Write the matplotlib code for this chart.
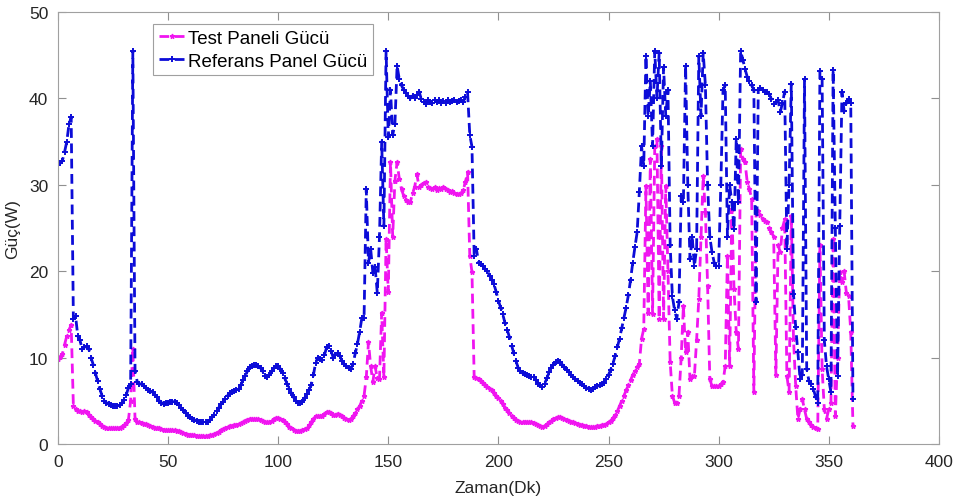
import numpy as np
import matplotlib.pyplot as plt

plt.rcParams['font.family'] = ['Liberation Sans', 'DejaVu Sans']

# Zaman (dakika), 0..361
zaman = np.arange(0, 362)

# Test panelinin gucu (W)
test_gucu = [
    9.8, 10.1, 10.4, 11.5, 12.5, 13.2, 13.8, 4.4, 4.0, 3.8,
    3.8, 3.7, 3.8, 3.7, 3.4, 3.1, 2.9, 2.7, 2.5, 2.3,
    2.1, 2.0, 1.9, 1.8, 1.8, 1.8, 1.8, 1.8, 1.9, 2.0,
    2.2, 2.4, 2.8, 5.0, 11.0, 2.9, 2.6, 2.5, 2.4, 2.3,
    2.3, 2.2, 2.1, 2.0, 1.9, 1.9, 1.8, 1.7, 1.6, 1.6,
    1.6, 1.6, 1.6, 1.6, 1.5, 1.5, 1.4, 1.3, 1.2, 1.1,
    1.1, 1.0, 1.0, 0.9, 0.9, 0.9, 0.9, 0.9, 0.9, 1.0,
    1.1, 1.2, 1.3, 1.4, 1.6, 1.7, 1.8, 2.0, 2.1, 2.1,
    2.2, 2.2, 2.3, 2.4, 2.6, 2.7, 2.8, 2.9, 2.9, 2.9,
    2.9, 2.9, 2.8, 2.7, 2.5, 2.5, 2.6, 2.7, 2.9, 3.0,
    3.0, 2.9, 2.8, 2.6, 2.3, 2.0, 1.8, 1.6, 1.5, 1.5,
    1.5, 1.6, 1.7, 1.9, 2.2, 2.5, 2.9, 3.2, 3.2, 3.3,
    3.3, 3.5, 3.7, 3.7, 3.6, 3.4, 3.4, 3.5, 3.4, 3.2,
    3.0, 2.9, 2.8, 2.9, 3.2, 3.6, 4.0, 4.4, 5.0, 5.6,
    7.7, 11.8, 9.0, 7.2, 9.0, 7.6, 7.5, 15.2, 7.7, 23.7,
    17.6, 32.6, 24.0, 30.5, 32.6, 30.7, 29.5, 28.7, 28.2, 28.0,
    28.0, 29.0, 29.8, 31.2, 29.7, 30.0, 30.2, 30.3, 29.8, 29.6,
    29.5, 29.7, 29.4, 29.6, 29.5, 29.7, 29.5, 29.4, 29.2, 29.3,
    29.0, 28.9, 28.9, 29.0, 29.4, 30.3, 31.5, 21.8, 19.9, 7.7,
    7.6, 7.5, 7.3, 7.1, 6.8, 6.6, 6.4, 6.2, 5.9, 5.6,
    5.3, 5.0, 4.6, 4.2, 3.9, 3.6, 3.3, 3.0, 2.8, 2.7,
    2.6, 2.6, 2.6, 2.5, 2.5, 2.5, 2.4, 2.3, 2.2, 2.1,
    2.0, 2.1, 2.3, 2.5, 2.7, 2.9, 3.0, 3.1, 3.1, 3.0,
    2.9, 2.8, 2.7, 2.6, 2.5, 2.4, 2.3, 2.2, 2.2, 2.1,
    2.1, 2.0, 2.0, 2.0, 2.0, 2.1, 2.1, 2.2, 2.2, 2.3,
    2.5, 2.7, 3.0, 3.4, 3.8, 4.4, 5.0, 5.6, 6.2, 6.8,
    7.4, 8.0, 8.5, 8.9, 9.3, 12.2, 13.3, 29.9, 15.2, 33.0,
    15.0, 34.5, 35.3, 14.5, 34.5, 14.5, 29.9, 20.0, 9.5, 5.6,
    4.8, 4.8, 5.6, 10.0, 16.0, 10.6, 13.0, 7.5, 7.9, 7.9,
    12.0, 16.8, 24.0, 31.0, 26.8, 18.3, 7.5, 6.7, 6.7, 6.7,
    6.7, 6.9, 7.2, 9.0, 21.8, 9.0, 27.2, 17.9, 13.0, 11.0,
    34.1, 33.0, 32.6, 30.3, 29.5, 28.4, 6.0, 26.8, 27.0, 26.5,
    26.0, 25.8, 25.7, 25.0, 24.5, 24.0, 8.0, 23.0, 22.2, 25.0,
    26.0, 7.9, 6.0, 26.4, 12.2, 6.7, 2.9, 4.0, 5.2, 4.0,
    2.9, 2.5, 2.2, 2.0, 1.8, 1.7, 23.0, 8.7, 4.0, 2.9,
    4.0, 4.8, 23.7, 3.3, 10.0, 19.9, 18.8, 20.0, 17.5, 17.1,
    13.0, 2.1,
]

# Referans panelin gucu (W)
referans_gucu = [
    32.3, 32.5, 32.8, 33.8, 35.0, 37.0, 37.8, 14.5, 14.8, 12.5,
    12.0, 11.0, 11.2, 11.3, 11.0, 10.0, 9.2, 8.2, 7.3, 6.4,
    5.6, 5.0, 4.8, 4.6, 4.5, 4.4, 4.4, 4.4, 4.5, 4.7,
    5.1, 5.7, 6.5, 7.0, 45.5, 8.5, 7.2, 7.0, 6.9, 6.7,
    6.5, 6.3, 6.1, 6.0, 5.7, 5.4, 5.0, 4.8, 4.6, 4.7,
    4.8, 4.9, 4.9, 4.9, 4.7, 4.5, 4.2, 3.9, 3.6, 3.3,
    3.1, 2.9, 2.8, 2.7, 2.6, 2.5, 2.5, 2.5, 2.6, 2.8,
    3.1, 3.4, 3.8, 4.2, 4.6, 4.9, 5.2, 5.6, 5.9, 6.0,
    6.1, 6.2, 6.4, 6.8, 7.4, 7.9, 8.4, 8.9, 9.0, 9.1,
    9.1, 9.0, 8.8, 8.4, 7.9, 7.8, 8.0, 8.4, 8.8, 9.0,
    9.0, 8.7, 8.2, 7.6, 7.0, 6.4, 5.9, 5.4, 5.0, 4.8,
    4.7, 4.9, 5.3, 5.8, 6.3, 6.8, 8.0, 9.4, 10.0, 9.8,
    9.7, 10.3, 11.2, 11.3, 10.8, 10.0, 10.3, 10.5, 10.2, 9.6,
    9.3, 9.0, 8.8, 8.7, 9.3, 10.5, 11.6, 13.0, 14.6, 14.6,
    29.5, 21.0, 22.6, 19.8, 20.5, 17.5, 24.0, 35.0, 25.2, 45.5,
    35.5, 41.0, 35.8, 37.0, 43.8, 42.2, 41.5, 41.0, 40.6, 40.3,
    40.0, 40.3, 40.0, 40.4, 40.8, 39.9, 39.6, 39.4, 39.8, 39.6,
    39.5, 39.8, 39.6, 39.8, 39.5, 39.7, 39.5, 39.8, 39.6, 39.7,
    39.8, 39.6, 39.7, 39.8, 39.6, 40.2, 40.7, 35.8, 34.4, 21.8,
    22.6, 21.0, 20.8, 20.6, 20.3, 20.0, 19.5, 19.0, 18.5, 17.6,
    16.6, 15.8, 15.0, 14.0, 13.2, 12.4, 11.4, 10.5, 9.6, 8.8,
    8.4, 8.2, 8.1, 8.0, 7.9, 7.8, 7.7, 7.4, 7.0, 6.8,
    6.6, 7.0, 7.6, 8.3, 8.8, 9.2, 9.5, 9.6, 9.5, 9.2,
    8.9, 8.6, 8.3, 8.0, 7.7, 7.5, 7.3, 7.1, 6.9, 6.7,
    6.5, 6.4, 6.3, 6.4, 6.6, 6.7, 6.8, 6.9, 7.1, 7.5,
    8.0, 8.6, 9.3, 10.2, 11.2, 12.2, 13.4, 14.6, 15.8, 17.2,
    19.0, 21.0, 22.8, 24.5, 29.2, 34.5, 32.2, 44.9, 38.0, 42.0,
    34.5, 45.5, 40.0, 45.3, 32.2, 43.6, 38.0, 41.0, 23.0, 17.1,
    15.5, 14.5, 16.4, 28.7, 28.0, 43.8, 30.0, 21.4, 24.0, 20.6,
    22.6, 44.9, 38.0, 45.3, 41.5, 30.0, 24.0, 22.2, 21.0, 20.6,
    20.6, 30.0, 41.0, 41.5, 24.0, 30.0, 28.0, 24.9, 35.3, 28.0,
    45.5, 44.5, 43.4, 42.5, 42.0, 41.5, 41.0, 16.4, 41.0, 41.2,
    41.0, 40.8, 40.8, 40.5, 39.9, 39.4, 39.6, 39.8, 38.4, 39.5,
    40.8, 22.6, 30.0, 41.7, 17.4, 13.5, 10.6, 7.5, 8.0, 42.2,
    8.7, 7.3, 7.0, 6.4, 5.5, 4.8, 43.2, 42.2, 12.0, 9.0,
    7.5, 6.0, 43.3, 25.0, 7.9, 25.2, 40.7, 38.5, 39.5, 39.9,
    39.5, 5.2,
]

fig = plt.figure(figsize=(9.58, 5.02), dpi=100)
ax = fig.add_axes([0.0605, 0.1135, 0.9195, 0.8605])

ax.plot(zaman, test_gucu, color='#f015f0', linestyle='--', dashes=(3.5, 2),
        linewidth=2.0, marker='*', markersize=3.5, label='Test Paneli Gücü')
ax.plot(zaman, referans_gucu, color='#0c0cd8', linestyle='--', dashes=(3.5, 2),
        linewidth=2.0, marker='+', markersize=4, markeredgewidth=1.4,
        label='Referans Panel Gücü')

ax.set_xlim(0, 400)
ax.set_ylim(0, 50)
ax.set_xticks(np.arange(0, 401, 50))
ax.set_yticks(np.arange(0, 51, 10))
ax.tick_params(direction='in', length=6, width=0.8, colors='#909090',
               labelcolor='#262626', labelsize=12.5, top=True, right=True, pad=7)
for sp in ax.spines.values():
    sp.set_color('#a0a0a0')
    sp.set_linewidth(0.8)

ax.set_xlabel('Zaman(Dk)', fontsize=12.5, color='#262626', labelpad=8)
ax.set_ylabel('Güç(W)', fontsize=12.5, color='#262626', labelpad=6)

leg = ax.legend(loc='upper left', bbox_to_anchor=(0.108, 0.972), borderaxespad=0,
                fontsize=13.5, handlelength=1.4, handletextpad=0.15,
                fancybox=False, framealpha=1, borderpad=0.3, labelspacing=0.3)
leg.get_frame().set_edgecolor('#a0a0a0')
leg.get_frame().set_linewidth(0.8)

fig.savefig('out.png', dpi=100)
